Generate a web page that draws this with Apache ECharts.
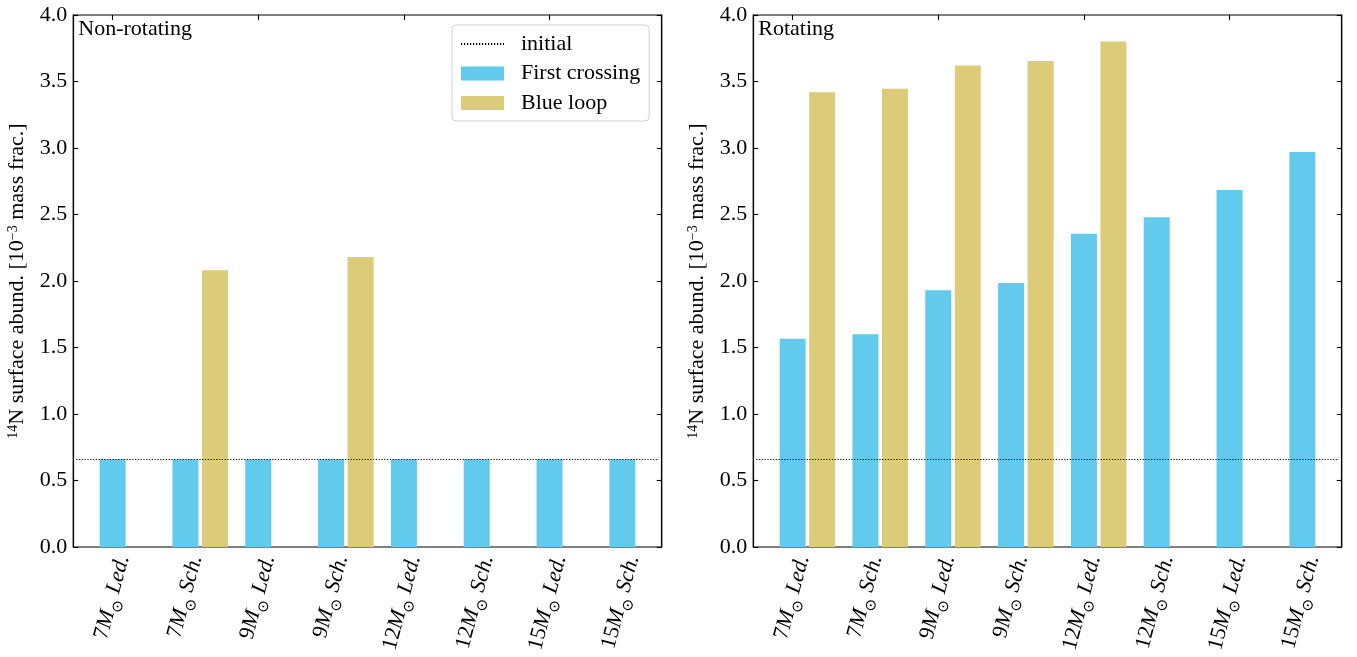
<!DOCTYPE html>
<html>
<head>
<meta charset="utf-8">
<script src="https://cdn.jsdelivr.net/npm/echarts@6/dist/echarts.min.js"></script>
<style>
  html, body { margin: 0; padding: 0; background: #fff; }
  #chart { width: 1357px; height: 657px; }
</style>
</head>
<body>
<div id="chart"></div>
<script>
// Models: mass (solar masses) + mass-loss / input physics label
const categories = ['7M⊙ Led.', '7M⊙ Sch.', '9M⊙ Led.', '9M⊙ Sch.',
                    '12M⊙ Led.', '12M⊙ Sch.', '15M⊙ Led.', '15M⊙ Sch.'];

// 14N surface abundance, units of 1e-3 mass fraction
const initialAbund = 0.658;

const nonRotFirstCrossing = [0.66, 0.66, 0.66, 0.66, 0.66, 0.66, 0.66, 0.66];
const nonRotBlueLoop      = ['-', 2.08, '-', 2.18, '-', '-', '-', '-'];

const rotFirstCrossing = [1.565, 1.60, 1.93, 1.985, 2.355, 2.48, 2.685, 2.97];
const rotBlueLoop      = [3.42, 3.445, 3.62, 3.655, 3.80, '-', '-', '-'];

const panelTitles = ['Non-rotating', 'Rotating'];

const FONT = '"Liberation Serif", "DejaVu Serif", serif';
const BLUE = '#62CAEC';
const GOLD = '#DCCB78';
const INK = '#000';

const chart = echarts.init(document.getElementById('chart'), null, { renderer: 'canvas' });

// Frame rectangles of both panels; bar grids are inset so that the
// category centres sit on the same positions as the ticks of the frame
const frames = [
  { left: 73.3, top: 15, width: 588.4, height: 532 },
  { left: 753.3, top: 15, width: 588.4, height: 532 }
];
const unit = 588.4 / 8.08;
const inset = 0.54 * unit - unit / 2;

const grids = [];
const xAxes = [];
const yAxes = [];
const series = [];

function catLabel(v) {
  const parts = v.split('M⊙');
  return '{n|' + parts[0] + '}{m|M}{s|⊙}{t|' + parts[1] + '}';
}

frames.forEach((f, p) => {
  const gFrame = grids.length;
  grids.push({ left: f.left, top: f.top, width: f.width, height: f.height,
               show: true, borderColor: INK, borderWidth: 1.2, backgroundColor: 'transparent' });
  const gBars = grids.length;
  grids.push({ left: f.left + inset, top: f.top, width: 8 * unit, height: f.height });

  // hidden x axis for the frame grid
  xAxes.push({ gridIndex: gFrame, type: 'value', min: 0, max: 1, show: false });
  const xBottom = xAxes.length;
  xAxes.push({
    gridIndex: gBars, type: 'category', data: categories, position: 'bottom',
    boundaryGap: true,
    axisLine: { show: false },
    axisTick: { show: true, inside: true, alignWithLabel: true, length: 5,
                lineStyle: { color: INK, width: 1.1 } },
    axisLabel: {
      interval: 0, rotate: 75, margin: 6, verticalAlign: 'top',
      formatter: catLabel, color: INK,
      rich: {
        n: { fontFamily: FONT, fontSize: 22, lineHeight: 22, verticalAlign: 'top', color: INK },
        m: { fontFamily: FONT, fontSize: 22, lineHeight: 22, verticalAlign: 'top', fontStyle: 'italic', color: INK },
        s: { fontFamily: '"DejaVu Sans", sans-serif', fontSize: 15, lineHeight: 27, verticalAlign: 'bottom', color: INK },
        t: { fontFamily: FONT, fontSize: 22, lineHeight: 22, verticalAlign: 'top', fontStyle: 'italic', color: INK }
      }
    },
    splitLine: { show: false }
  });
  xAxes.push({
    gridIndex: gBars, type: 'category', data: categories, position: 'top',
    boundaryGap: true,
    axisLine: { show: false },
    axisTick: { show: true, inside: true, alignWithLabel: true, length: 5,
                lineStyle: { color: INK, width: 1.1 } },
    axisLabel: { show: false },
    splitLine: { show: false }
  });

  yAxes.push({
    gridIndex: gFrame, type: 'value', min: 0, max: 4, interval: 0.5, position: 'left',
    name: '{sup|14}N surface abund. [10{sup|−3} mass frac.]',
    nameLocation: 'middle', nameRotate: 90, nameGap: 45,
    nameTextStyle: {
      fontFamily: FONT, fontSize: 22, color: INK,
      rich: {
        sup: { fontFamily: FONT, fontSize: 14, verticalAlign: 'top', color: INK }
      }
    },
    axisLine: { show: true, lineStyle: { color: INK, width: 1.2 } },
    axisTick: { show: true, inside: true, length: 5, lineStyle: { color: INK, width: 1.1 } },
    axisLabel: { fontFamily: FONT, fontSize: 22, color: INK, margin: 6,
                 formatter: v => v.toFixed(1) },
    splitLine: { show: false }
  });
  yAxes.push({
    gridIndex: gFrame, type: 'value', min: 0, max: 4, interval: 0.5, position: 'right',
    axisLine: { show: true, lineStyle: { color: INK, width: 1.2 } },
    axisTick: { show: true, inside: true, length: 5, lineStyle: { color: INK, width: 1.1 } },
    axisLabel: { show: false },
    splitLine: { show: false }
  });
  const yBars = yAxes.length;
  yAxes.push({ gridIndex: gBars, type: 'value', min: 0, max: 4, show: false, splitLine: { show: false } });

  const first = p === 0 ? nonRotFirstCrossing : rotFirstCrossing;
  const loop = p === 0 ? nonRotBlueLoop : rotBlueLoop;

  const barCommon = { type: 'bar', xAxisIndex: xBottom, yAxisIndex: yBars,
                      barWidth: 26, barGap: '13.5%', silent: true, animation: false };
  // empty leading slot keeps "First crossing" centred on the tick
  series.push(Object.assign({}, barCommon, { name: 'slot', data: categories.map(() => '-'),
                                             itemStyle: { color: 'transparent' } }));
  series.push(Object.assign({}, barCommon, { name: 'First crossing', data: first,
                                             itemStyle: { color: BLUE } }));
  series.push(Object.assign({}, barCommon, { name: 'Blue loop', data: loop,
                                             itemStyle: { color: GOLD } }));
  series.push({
    name: 'initial', type: 'line', xAxisIndex: xBottom, yAxisIndex: yBars,
    data: [], symbol: 'none', silent: true, animation: false,
    itemStyle: { color: INK, opacity: 0 },
    lineStyle: { color: INK, width: 1, type: [1.2, 1.8] },
    markLine: {
      silent: true, symbol: 'none', animation: false,
      label: { show: false },
      lineStyle: { color: INK, width: 1, opacity: 1, type: [1.2, 1.6] },
      data: [{ yAxis: initialAbund }]
    }
  });
});

const option = {
  backgroundColor: '#fff',
  animation: false,
  title: panelTitles.map((t, i) => ({
    text: t, left: frames[i].left + 5, top: 18, padding: 0,
    textStyle: { fontFamily: FONT, fontSize: 22, fontWeight: 'normal', color: INK }
  })),
  legend: {
    data: [
      { name: 'initial', itemStyle: { opacity: 0 } },
      { name: 'First crossing', icon: 'rect' },
      { name: 'Blue loop', icon: 'rect' }
    ],
    orient: 'vertical', left: 452, top: 25,
    padding: [8, 9, 7, 8],
    itemWidth: 43, itemHeight: 14, itemGap: 7.5,
    borderColor: '#d0d0d0', borderWidth: 1, borderRadius: 4,
    backgroundColor: '#fff',
    selectedMode: false,
    textStyle: { fontFamily: FONT, fontSize: 22, color: INK, lineHeight: 22, padding: [0, 0, 0, 12] }
  },
  grid: grids,
  xAxis: xAxes,
  yAxis: yAxes,
  series: series
};

chart.setOption(option);
</script>
</body>
</html>
